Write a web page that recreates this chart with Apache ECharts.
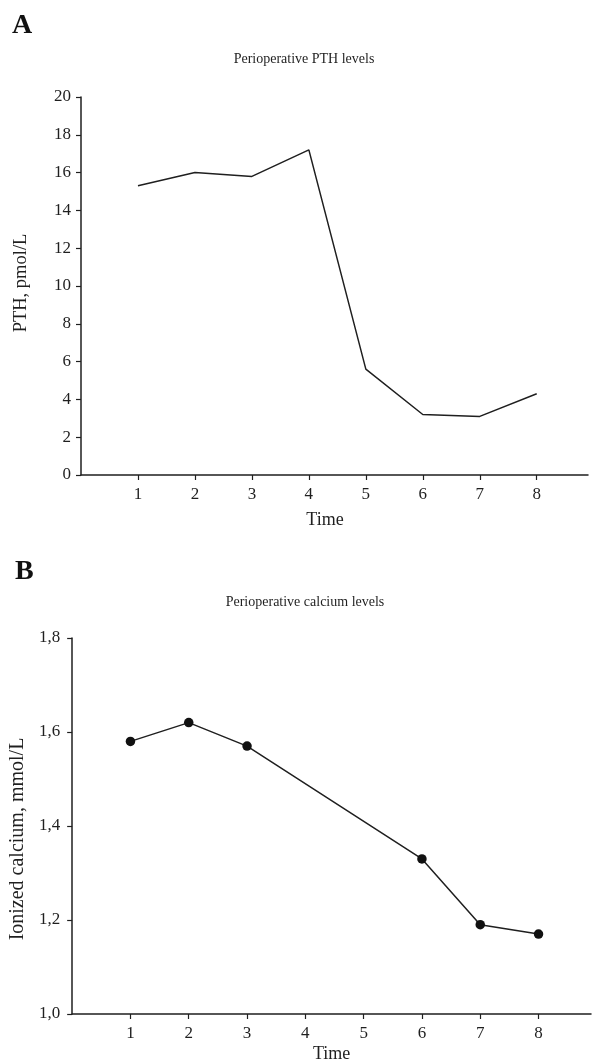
<!DOCTYPE html>
<html>
<head>
<meta charset="utf-8">
<script src="https://cdn.jsdelivr.net/npm/echarts@6/dist/echarts.min.js"></script>
<style>
html,body{margin:0;padding:0;background:#fff;}
#chart{width:595px;height:1064px;}
</style>
</head>
<body>
<div id="chart"></div>
<script>
// Panel A: perioperative PTH levels
var timesA = [1, 2, 3, 4, 5, 6, 7, 8];
var pthValues = [15.3, 16.0, 15.8, 17.2, 5.6, 3.2, 3.1, 4.3];
// Panel B: perioperative ionized calcium levels
var timesB = [1, 2, 3, 6, 7, 8];
var calciumValues = [1.58, 1.62, 1.57, 1.33, 1.19, 1.17];
var xTicks = [1, 2, 3, 4, 5, 6, 7, 8];

var FONT = "'Liberation Serif', 'DejaVu Serif', serif";
var INK = '#1f1f1f';

function pairs(xs, ys) { return xs.map(function (x, i) { return [x, ys[i]]; }); }

var chart = echarts.init(document.getElementById('chart'), null, { renderer: 'canvas' });

function xAxisCfg(gridIndex, gap, pad) {
  return {
    type: 'value', gridIndex: gridIndex, min: 0, max: 8.9, interval: 1,
    name: 'Time', nameLocation: 'middle', nameGap: gap,
    nameTextStyle: { fontFamily: FONT, fontSize: 18, color: INK, padding: pad },
    axisLine: { show: true, onZero: false, lineStyle: { color: INK, width: 1.5 } },
    axisTick: { show: true, inside: false, length: 5, customValues: xTicks, lineStyle: { color: INK, width: 1.2 } },
    axisLabel: { customValues: xTicks, margin: 11, fontFamily: FONT, fontSize: 17, color: INK },
    splitLine: { show: false }
  };
}

function yAxisCfg(gridIndex, min, max, interval, name, gap, nameSize, namePad, labelMargin, fmt) {
  return {
    type: 'value', gridIndex: gridIndex, min: min, max: max, interval: interval,
    name: name, nameLocation: 'middle', nameGap: gap,
    nameTextStyle: { fontFamily: FONT, fontSize: nameSize, color: INK, padding: namePad },
    axisLine: { show: true, onZero: false, lineStyle: { color: INK, width: 1.5 } },
    axisTick: { show: true, inside: false, length: 5, lineStyle: { color: INK, width: 1.2 } },
    axisLabel: { margin: labelMargin, fontFamily: FONT, fontSize: 17, color: INK, formatter: fmt },
    splitLine: { show: false }
  };
}

var option = {
  backgroundColor: '#fff',
  animation: false,
  title: [
    { text: 'A', left: 7, top: 7, textStyle: { fontFamily: FONT, fontSize: 28, fontWeight: 'bold', color: '#111' } },
    { text: 'Perioperative PTH levels', left: 299, top: 47, textAlign: 'center', textStyle: { fontFamily: FONT, fontSize: 14, fontWeight: 'normal', color: INK } },
    { text: 'B', left: 10, top: 553, textStyle: { fontFamily: FONT, fontSize: 28, fontWeight: 'bold', color: '#111' } },
    { text: 'Perioperative calcium levels', left: 300, top: 590, textAlign: 'center', textStyle: { fontFamily: FONT, fontSize: 14, fontWeight: 'normal', color: INK } }
  ],
  grid: [
    { left: 81, top: 97, width: 507, height: 378 },
    { left: 72, top: 638, width: 519, height: 378 }
  ],
  xAxis: [
    xAxisCfg(0, 36, [0, 19, 0, 0]),
    xAxisCfg(1, 31, [0, 0, 0, 0])
  ],
  yAxis: [
    yAxisCfg(0, 0, 20, 2, 'PTH, pmol/L', 50, 18.5, [0, 0, 0, 6], 10, function (v) { return String(Math.round(v)); }),
    yAxisCfg(1, 1.0, 1.8, 0.2, 'Ionized calcium, mmol/L', 42, 20, [0, 26, 0, 0], 12, function (v) { return v.toFixed(1).replace('.', ','); })
  ],
  series: [
    {
      type: 'line', xAxisIndex: 0, yAxisIndex: 0,
      data: pairs(timesA, pthValues),
      showSymbol: false, symbol: 'none',
      lineStyle: { color: INK, width: 1.5 }
    },
    {
      type: 'line', xAxisIndex: 1, yAxisIndex: 1,
      data: pairs(timesB, calciumValues),
      symbol: 'circle', symbolSize: 9.5, showSymbol: true,
      itemStyle: { color: '#111', borderWidth: 0 },
      lineStyle: { color: INK, width: 1.5 }
    }
  ]
};
chart.setOption(option);
</script>
</body>
</html>
